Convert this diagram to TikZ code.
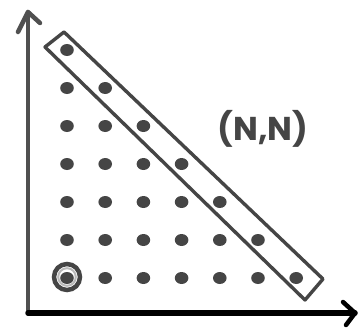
\documentclass[tikz,border=0pt]{standalone}
\usepackage{fontspec}
\newfontfamily\handfont{Poppins}
\definecolor{ink}{HTML}{454545}
\definecolor{axisink}{HTML}{505050}
\tikzset{
  axisline/.style={line width=4.5pt, draw=axisink, line cap=round, line join=round},
  boxline/.style={line width=3.4pt, draw=ink, line join=round, line cap=round},
}
\begin{document}
\begin{tikzpicture}[x=1pt,y=-1pt]
\useasboundingbox (0,0) rectangle (358,329);
% axes
\coordinate (O) at (28,313);
\coordinate (Ytop) at (28,12);
\coordinate (Xend) at (355,313);
\draw[axisline] (O) -- (Ytop);
\draw[axisline] (18,32) -- (Ytop) -- (40,23);
\draw[line width=5.5pt, draw=black, line cap=round] (O) -- (Xend);
\draw[line width=4.5pt, draw=black, line cap=round, line join=round] (343,302) -- (Xend) -- (346,325);
% dots
\foreach \r in {0,...,6} {
  \pgfmathtruncatemacro{\ncols}{6-\r}
  \foreach \c in {0,...,\ncols} {
    \fill[ink] ({67+38.2*\c},{278-38*\r}) ellipse (6.8pt and 6pt);
  }
}
% origin circle
\draw[ink, line width=4.5pt] (67,277) circle (13);
\draw[gray!55, line width=2pt] (67,277) circle (8.8);
% rectangle around diagonal
\coordinate (A) at (45,47);
\coordinate (B) at (64,32);
\coordinate (C) at (323,279);
\coordinate (D) at (305,300);
\draw[boxline] (A) -- (B) -- (C) -- (D) -- cycle;
% label
\node[text=ink, font=\handfont\bfseries\fontsize{33}{38}\selectfont] (lab) at (263,129) {(N,N)};
\end{tikzpicture}
\end{document}
